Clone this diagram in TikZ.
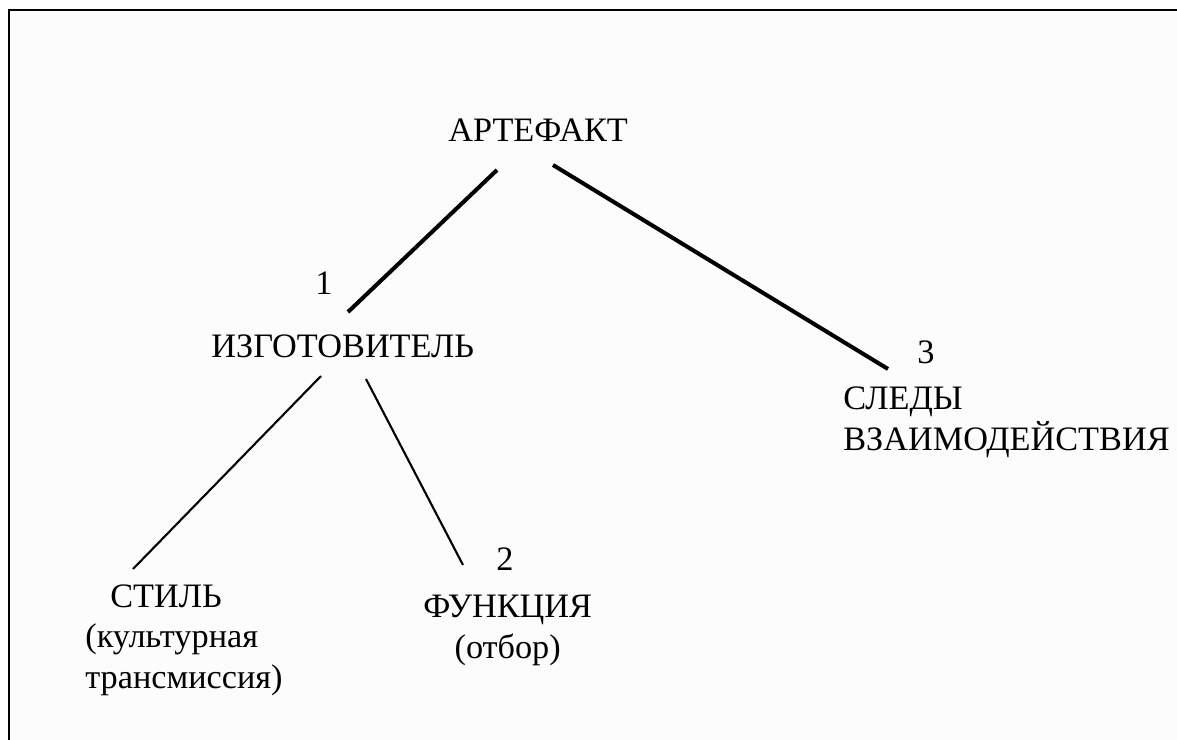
\documentclass[tikz,border=0pt]{standalone}
\usepackage{fontspec}
\setmainfont{Liberation Serif}
\usetikzlibrary{positioning}

\tikzset{
  lbl/.style={inner sep=0pt, font=\fontsize{19.5}{22.8}\selectfont},
  branch/.style={line width=2.3pt},
  twig/.style={line width=1.2pt}
}

\begin{document}
\begin{tikzpicture}[x=0.02cm, y=-0.02cm]
  \useasboundingbox (0,0) rectangle (1177,740);
  \fill[black!1] (9,10) rectangle (1177,740);
  \draw[line width=1.6pt] (9,740) -- (9,10) -- (1177,10);

  % root and first level
  \node[lbl, anchor=base west] (art) at (448,142) {АРТЕФАКТ};
  \node[lbl, anchor=base west] (izg) at (211,357) {ИЗГОТОВИТЕЛЬ};
  \node[lbl, anchor=base west, align=left] (sled) at (843,450) {СЛЕДЫ\\ВЗАИМОДЕЙСТВИЯ};

  % second level
  \node[lbl, anchor=base west, align=left] (stil) at (85,688)
    {\hspace*{0.5cm}СТИЛЬ\\(культурная\\трансмиссия)};
  \node[lbl, anchor=base west, align=center] (funk) at (423,658) {ФУНКЦИЯ\\(отбор)};

  % numbers
  \node[lbl, anchor=base] (n1) at (324,294) {1};
  \node[lbl, anchor=base] (n2) at (505,570) {2};
  \node[lbl, anchor=base] (n3) at (926,363) {3};

  \path[branch]
    ([shift={(49,28)}]art.base west) edge ([shift={(137,-45)}]izg.base west)
    ([shift={(105,23)}]art.base west) edge ([shift={(45,-81)}]sled.base west);
  \path[twig]
    ([shift={(110,19)}]izg.base west) edge ([shift={(48,-119)}]stil.base west)
    ([shift={(155,22)}]izg.base west) edge ([shift={(-42,-5)}]n2.base);
\end{tikzpicture}
\end{document}
